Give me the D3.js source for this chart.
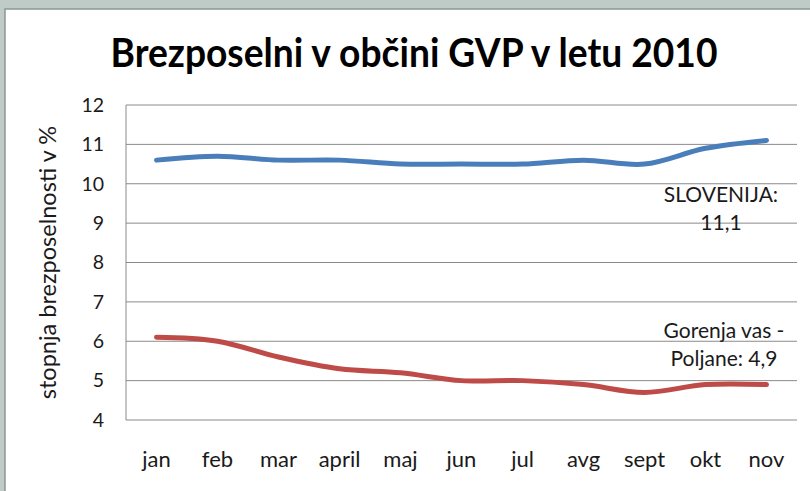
<!DOCTYPE html>
<html>
<head>
<meta charset="utf-8">
<script src="https://cdn.jsdelivr.net/npm/d3@7"></script>
<style>
  html, body { margin: 0; padding: 0; background: #bfcbc6; }
  svg { display: block; }
</style>
</head>
<body>
<div class="viewer"></div>
<script>
// months, 2010
var months = ['jan', 'feb', 'mar', 'april', 'maj', 'jun', 'jul', 'avg', 'sept', 'okt', 'nov'];
var slovenija = [10.6, 10.7, 10.6, 10.6, 10.5, 10.5, 10.5, 10.6, 10.5, 10.9, 11.1];
var gvp = [6.1, 6.0, 5.6, 5.3, 5.2, 5.0, 5.0, 4.9, 4.7, 4.9, 4.9];
var yTicks = [4, 5, 6, 7, 8, 9, 10, 11, 12];

var width = 810, height = 491;
var plot = {left: 126, right: 797, top: 105, bottom: 420};
var font = 'Lato, "Open Sans", sans-serif';

var svg = d3.select('.viewer')
  .append('svg')
  .attr('width', width)
  .attr('height', height);

// white panel + dark edge
svg.append('rect')
  .attr('x', 5).attr('y', 9)
  .attr('width', width).attr('height', height)
  .attr('fill', '#fff')
  .attr('stroke', '#8c9894')
  .attr('stroke-width', 1.5);

var x = d3.scaleBand().domain(months).range([plot.left, plot.right]);
var y = d3.scaleLinear().domain([4, 12]).range([plot.bottom, plot.top]);

// gridlines
svg.append('g')
  .selectAll('line')
  .data(yTicks)
  .join('line')
  .attr('x1', plot.left).attr('x2', plot.right)
  .attr('y1', function(d) { return y(d); })
  .attr('y2', function(d) { return y(d); })
  .attr('stroke', '#8a8a8a')
  .attr('stroke-width', 1);

// left axis line
svg.append('line')
  .attr('x1', plot.left).attr('x2', plot.left)
  .attr('y1', plot.top).attr('y2', plot.bottom)
  .attr('stroke', '#8a8a8a');

// y tick labels
svg.append('g')
  .selectAll('text')
  .data(yTicks)
  .join('text')
  .attr('x', 104)
  .attr('y', function(d) { return y(d); })
  .attr('dy', '0.35em')
  .attr('text-anchor', 'end')
  .attr('font-family', font)
  .attr('font-size', 19.5)
  .attr('fill', '#1a1a1a')
  .text(function(d) { return d; });

// x labels
svg.append('g')
  .selectAll('text')
  .data(months)
  .join('text')
  .attr('x', function(d) { return x(d) + x.bandwidth() / 2; })
  .attr('y', 467)
  .attr('text-anchor', 'middle')
  .attr('font-family', font)
  .attr('font-size', 22)
  .attr('fill', '#1a1a1a')
  .text(function(d) { return d; });

// y axis title
svg.append('text')
  .attr('transform', 'translate(56,' + ((plot.top + plot.bottom) / 2) + ') rotate(-90)')
  .attr('text-anchor', 'middle')
  .attr('font-family', font)
  .attr('font-size', 23.5)
  .attr('fill', '#1a1a1a')
  .text('stopnja brezposelnosti v %');

// title
svg.append('text')
  .attr('x', 414)
  .attr('y', 67)
  .attr('text-anchor', 'middle')
  .attr('font-family', font)
  .attr('font-weight', 'bold')
  .attr('font-size', 40)
  .attr('textLength', 607)
  .attr('lengthAdjust', 'spacingAndGlyphs')
  .attr('fill', '#000')
  .text('Brezposelni v občini GVP v letu 2010');

var line = d3.line()
  .x(function(d, i) { return x(months[i]) + x.bandwidth() / 2; })
  .y(function(d) { return y(d); })
  .curve(d3.curveCatmullRom.alpha(0));

svg.append('path')
  .datum(slovenija)
  .attr('d', line)
  .attr('fill', 'none')
  .attr('stroke', '#4a7ebb')
  .attr('stroke-width', 5)
  .attr('stroke-linecap', 'round');

svg.append('path')
  .datum(gvp)
  .attr('d', line)
  .attr('fill', 'none')
  .attr('stroke', '#be4b48')
  .attr('stroke-width', 5)
  .attr('stroke-linecap', 'round');

// data labels
var labels = [
  {lines: ['SLOVENIJA:', '11,1'], x: 721, y: 202},
  {lines: ['Gorenja vas -', 'Poljane: 4,9'], x: 724, y: 338}
];
labels.forEach(function(l) {
  svg.append('text')
    .attr('font-family', font)
    .attr('font-size', 21)
    .attr('fill', '#1a1a1a')
    .attr('text-anchor', 'middle')
    .selectAll('tspan')
    .data(l.lines)
    .join('tspan')
    .attr('x', l.x)
    .attr('y', function(d, i) { return l.y + i * 28; })
    .text(function(d) { return d; });
});
</script>
</body>
</html>
